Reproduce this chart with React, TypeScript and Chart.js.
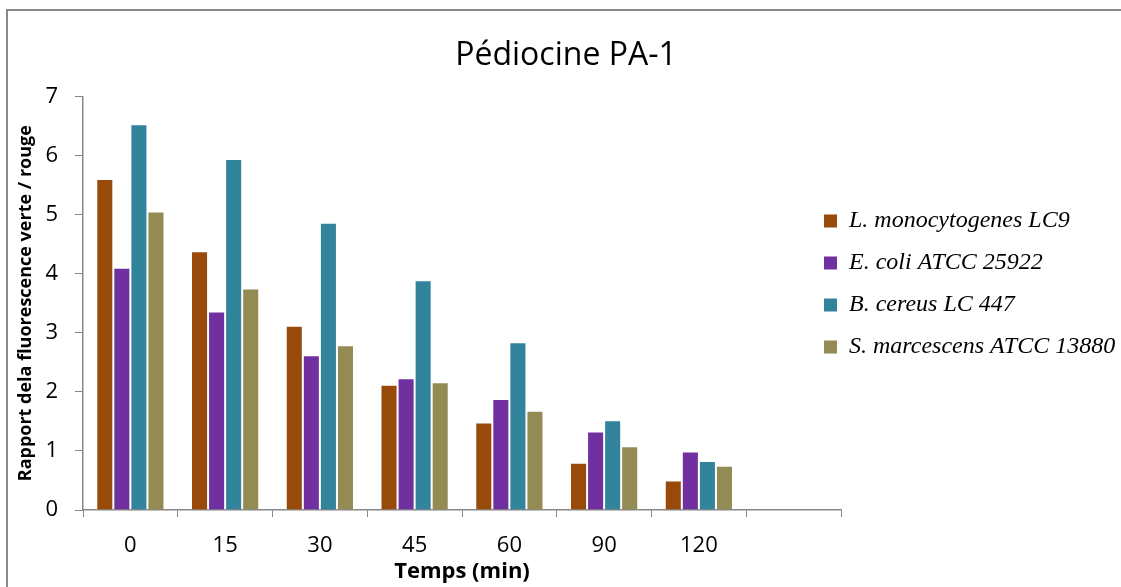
import React, { useEffect, useRef } from "react";
import { Chart, registerables } from "chart.js";

Chart.register(...registerables);

const categories = ["0", "15", "30", "45", "60", "90", "120", ""];
const seriesNames = [
  "L. monocytogenes LC9",
  "E. coli ATCC 25922",
  "B. cereus LC 447",
  "S. marcescens ATCC 13880",
];
const listeria = [5.6, 4.38, 3.12, 2.12, 1.48, 0.8, 0.5, null];
const ecoli = [4.1, 3.36, 2.62, 2.23, 1.88, 1.33, 0.99, null];
const bcereus = [6.53, 5.94, 4.86, 3.89, 2.84, 1.52, 0.83, null];
const smarcescens = [5.05, 3.75, 2.79, 2.16, 1.68, 1.08, 0.75, null];
const seriesValues = [listeria, ecoli, bcereus, smarcescens];
const seriesColors = ["#974A09", "#7030A0", "#31849B", "#948A54"];
const yTicks = [0, 1, 2, 3, 4, 5, 6, 7];

const AXIS = "#868686";
const SANS = "'Open Sans', 'Noto Sans', sans-serif";

const legendShift = {
  id: "legendShift",
  afterLayout(chart: any) {
    const l = chart.legend;
    if (!l) return;
    l.left -= 35;
    l.width += 35;
    l.top -= 9.5;
    l.bottom -= 9.5;
  },
};

export default function App() {
  const ref = useRef<HTMLCanvasElement | null>(null);

  useEffect(() => {
    if (!ref.current) return;
    const chart = new Chart(ref.current, {
      type: "bar",
      data: {
        labels: categories,
        datasets: seriesValues.map((vals, i) => ({
          label: seriesNames[i],
          data: vals,
          backgroundColor: seriesColors[i],
          borderColor: "rgba(255,255,255,0.55)",
          borderWidth: 1,
          categoryPercentage: 0.72,
          barPercentage: 1.0,
        })),
      },
      options: {
        animation: false,
        responsive: false,
        maintainAspectRatio: false,
        layout: { padding: { left: 11, top: 0, right: 0, bottom: 0 } },
        plugins: {
          tooltip: { enabled: false },
          title: {
            display: true,
            text: "Pédiocine PA-1",
            color: "#000",
            font: { family: SANS, size: 32, weight: "normal", lineHeight: 1.2 },
            padding: { top: 37, bottom: 21 },
          },
          legend: {
            display: true,
            position: "right",
            align: "center",
            maxWidth: 280,
            labels: {
              boxWidth: 13,
              boxHeight: 13,
              padding: 18,
              color: "#000",
              font: { family: "'Liberation Serif', 'Times New Roman', serif", size: 24, style: "italic" },
              generateLabels: (c: any) =>
                Chart.defaults.plugins.legend.labels
                  .generateLabels(c)
                  .map((it: any) => ({ ...it, lineWidth: 0 })),
            },
          },
        },
        scales: {
          x: {
            offset: true,
            grid: {
              display: true,
              offset: true,
              drawOnChartArea: false,
              drawTicks: true,
              tickLength: 7,
              color: AXIS,
            },
            border: { display: true, color: AXIS, width: 1.5 },
            ticks: {
              color: "#000",
              font: { family: SANS, size: 22 },
              padding: 16,
              maxRotation: 0,
            },
            title: {
              display: true,
              text: "Temps (min)",
              color: "#000",
              font: { family: SANS, size: 22, weight: "bold", lineHeight: 1.2 },
              padding: { top: 0, bottom: 2 },
            },
            afterFit: (s: any) => {
              s.height = 77;
            },
          },
          y: {
            min: 0,
            max: 7,
            afterBuildTicks: (s: any) => {
              s.ticks = yTicks.map((v) => ({ value: v }));
            },
            grid: {
              display: true,
              drawOnChartArea: false,
              drawTicks: true,
              tickLength: 8,
              color: AXIS,
            },
            border: { display: true, color: AXIS, width: 1.5 },
            ticks: {
              color: "#000",
              font: { family: SANS, size: 22 },
              padding: 17,
            },
            title: {
              display: true,
              text: "Rapport dela fluorescence verte / rouge",
              color: "#000",
              font: { family: SANS, size: 18, weight: "bold", lineHeight: 1.2 },
              padding: { top: 4, bottom: 0 },
            },
            afterFit: (s: any) => {
              s.width = 72;
            },
          },
        },
      },
      plugins: [legendShift],
    });
    return () => chart.destroy();
  }, []);

  return (
    <div style={{ position: "fixed", inset: 0, overflow: "hidden", background: "#fff" }}>
      <div
        style={{
          position: "absolute",
          left: 6,
          top: 9,
          width: 2000,
          height: 2000,
          borderTop: "2px solid #898989",
          borderLeft: "2px solid #898989",
        }}
      />
      <div style={{ position: "absolute", left: 0, top: 0, width: 1121, height: 587 }}>
        <canvas ref={ref} width={1121} height={587} />
      </div>
    </div>
  );
}
